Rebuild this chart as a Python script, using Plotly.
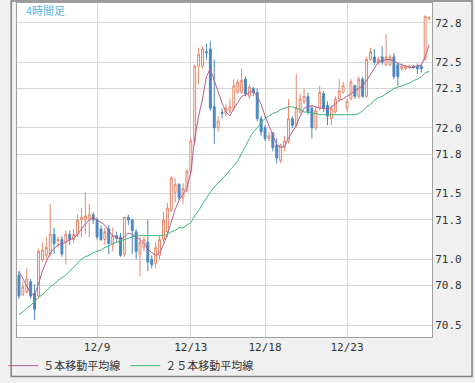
import plotly.graph_objects as go

# ---- data ----
opens = [
    70.88, 70.73, 70.75, 70.83, 70.74, 70.72, 71.00, 71.03, 71.04, 71.19,
    71.14, 71.15, 71.13, 71.19, 71.15, 71.19, 71.30, 71.30, 71.30, 71.34,
    71.30, 71.23, 71.15, 71.23, 71.11, 71.18, 71.17, 71.04, 71.32, 71.30,
    71.21, 71.04, 71.09, 71.13, 71.00, 70.97, 71.03, 71.15, 71.21, 71.37,
    71.51, 71.57, 71.47, 71.52, 71.67, 71.90, 72.47, 72.47, 72.58, 72.60,
    72.16, 72.00, 72.12, 72.11, 72.13, 72.15, 72.27, 72.27, 72.37, 72.24,
    72.30, 72.27, 72.07, 72.00, 71.92, 71.96, 71.87, 71.75, 71.85, 71.90,
    72.07, 72.02, 72.12, 72.20, 72.24, 72.15, 72.00, 72.15, 72.26, 72.17,
    72.07, 72.12, 72.22, 72.27, 72.15, 72.22, 72.32, 72.24, 72.37, 72.24,
    72.52, 72.54, 72.50, 72.54, 72.48, 72.48, 72.54, 72.48, 72.45, 72.45,
    72.46, 72.47, 72.47, 72.47, 72.52, 72.83]
highs = [
    70.91, 70.83, 70.93, 70.85, 70.81, 71.08, 71.13, 71.17, 71.42, 71.24,
    71.17, 71.18, 71.22, 71.22, 71.23, 71.34, 71.39, 71.51, 71.42, 71.36,
    71.32, 71.26, 71.24, 71.26, 71.24, 71.21, 71.20, 71.32, 71.34, 71.31,
    71.23, 71.17, 71.17, 71.30, 71.03, 71.13, 71.18, 71.36, 71.43, 71.63,
    71.62, 71.58, 71.58, 71.69, 71.92, 72.48, 72.61, 72.62, 72.64, 72.66,
    72.52, 72.09, 72.15, 72.18, 72.22, 72.37, 72.37, 72.45, 72.39, 72.33,
    72.31, 72.30, 72.09, 72.02, 71.97, 71.97, 71.92, 71.88, 71.94, 72.22,
    72.09, 72.41, 72.26, 72.30, 72.27, 72.17, 72.16, 72.32, 72.28, 72.20,
    72.17, 72.24, 72.37, 72.35, 72.22, 72.37, 72.33, 72.39, 72.39, 72.54,
    72.61, 72.60, 72.54, 72.62, 72.71, 72.56, 72.57, 72.50, 72.49, 72.48,
    72.48, 72.48, 72.49, 72.48, 72.85, 72.85]
lows = [
    70.70, 70.72, 70.74, 70.70, 70.54, 70.70, 70.98, 71.00, 71.02, 71.04,
    71.09, 71.02, 70.96, 71.11, 71.12, 71.17, 71.17, 71.19, 71.17, 71.27,
    71.15, 71.14, 71.11, 71.04, 71.06, 71.13, 71.02, 71.02, 71.26, 71.04,
    71.00, 70.87, 71.06, 70.91, 70.93, 70.93, 71.00, 71.13, 71.17, 71.36,
    71.43, 71.45, 71.42, 71.51, 71.66, 71.87, 72.33, 72.45, 72.52, 72.13,
    71.88, 71.97, 72.07, 72.09, 72.11, 72.13, 72.26, 72.26, 72.24, 72.22,
    72.24, 72.05, 71.94, 71.90, 71.90, 71.82, 71.73, 71.73, 71.82, 71.88,
    72.00, 72.00, 72.11, 72.18, 72.10, 71.92, 71.98, 72.13, 72.12, 72.02,
    72.02, 72.11, 72.20, 72.26, 72.12, 72.21, 72.22, 72.22, 72.23, 72.23,
    72.51, 72.48, 72.48, 72.48, 72.47, 72.47, 72.37, 72.32, 72.43, 72.44,
    72.45, 72.45, 72.41, 72.42, 72.51, 72.82]
closes = [
    70.72, 70.79, 70.85, 70.72, 70.62, 71.06, 71.07, 71.09, 71.19, 71.12,
    71.15, 71.04, 71.19, 71.15, 71.19, 71.30, 71.32, 71.33, 71.34, 71.30,
    71.17, 71.15, 71.21, 71.12, 71.18, 71.16, 71.03, 71.32, 71.30, 71.22,
    71.06, 71.13, 71.15, 70.98, 70.96, 71.09, 71.15, 71.30, 71.39, 71.62,
    71.57, 71.47, 71.54, 71.67, 71.90, 72.47, 72.56, 72.60, 72.57, 72.15,
    72.00, 72.05, 72.11, 72.15, 72.16, 72.32, 72.35, 72.36, 72.26, 72.31,
    72.27, 72.07, 71.97, 71.92, 71.94, 71.85, 71.77, 71.87, 71.90, 72.07,
    72.02, 72.15, 72.22, 72.24, 72.12, 72.00, 72.13, 72.27, 72.15, 72.09,
    72.15, 72.22, 72.28, 72.32, 72.20, 72.35, 72.24, 72.37, 72.24, 72.52,
    72.58, 72.50, 72.52, 72.50, 72.54, 72.54, 72.39, 72.39, 72.47, 72.47,
    72.47, 72.46, 72.45, 72.45, 72.85, 72.84]
ma5 = [
    70.91, 70.85, 70.79, 70.74, 70.73, 70.81, 70.91, 70.98, 71.05, 71.08,
    71.11, 71.12, 71.13, 71.15, 71.16, 71.19, 71.23, 71.27, 71.30, 71.32,
    71.30, 71.28, 71.26, 71.22, 71.18, 71.17, 71.15, 71.17, 71.20, 71.19,
    71.17, 71.15, 71.12, 71.08, 71.05, 71.03, 71.05, 71.11, 71.19, 71.29,
    71.38, 71.45, 71.50, 71.54, 71.66, 71.92, 72.09, 72.22, 72.39, 72.45,
    72.36, 72.27, 72.19, 72.12, 72.09, 72.15, 72.19, 72.24, 72.25, 72.27,
    72.28, 72.24, 72.18, 72.09, 72.02, 71.94, 71.87, 71.85, 71.86, 71.92,
    71.97, 72.02, 72.09, 72.15, 72.16, 72.17, 72.16, 72.15, 72.15, 72.14,
    72.16, 72.18, 72.21, 72.22, 72.24, 72.26, 72.28, 72.30, 72.32, 72.36,
    72.41, 72.46, 72.50, 72.51, 72.52, 72.52, 72.51, 72.49, 72.48, 72.47,
    72.46, 72.46, 72.47, 72.48, 72.54, 72.63]
ma25 = [
    70.58, 70.60, 70.63, 70.65, 70.68, 70.71, 70.73, 70.76, 70.79, 70.81,
    70.84, 70.86, 70.88, 70.91, 70.94, 70.97, 71.00, 71.02, 71.03, 71.05,
    71.06, 71.07, 71.09, 71.10, 71.12, 71.13, 71.14, 71.15, 71.16, 71.17,
    71.18, 71.18, 71.18, 71.18, 71.18, 71.18, 71.18, 71.18, 71.19, 71.21,
    71.22, 71.24, 71.24, 71.26, 71.28, 71.33, 71.37, 71.42, 71.47, 71.51,
    71.55, 71.58, 71.61, 71.64, 71.68, 71.71, 71.75, 71.80, 71.86, 71.92,
    71.97, 72.00, 72.04, 72.07, 72.09, 72.11, 72.12, 72.14, 72.15, 72.16,
    72.16, 72.15, 72.14, 72.12, 72.12, 72.11, 72.11, 72.10, 72.10, 72.10,
    72.10, 72.10, 72.10, 72.10, 72.10, 72.10, 72.10, 72.11, 72.13, 72.16,
    72.18, 72.21, 72.23, 72.24, 72.26, 72.28, 72.30, 72.31, 72.32, 72.33,
    72.34, 72.36, 72.37, 72.39, 72.42, 72.43]

date_tick_bars = [20, 44, 63, 84]
date_tick_labels = ['12/9', '12/13', '12/18', '12/23']
price_ticks = [70.5, 70.8, 71.0, 71.3, 71.5, 71.8, 72.0, 72.3, 72.5, 72.8]
price_tick_labels = ['70.5', '70.8', '71.0', '71.3', '71.5', '71.8', '72.0', '72.3', '72.5', '72.8']
ma5_name = '５本移動平均線'
ma25_name = '２５本移動平均線'
timeframe_label = '4時間足'

bars = list(range(len(closes)))

fig = go.Figure()
fig.add_trace(go.Candlestick(
    x=bars, open=opens, high=highs, low=lows, close=closes,
    increasing=dict(line=dict(color='#E5896C', width=1), fillcolor='#FFF6F2'),
    decreasing=dict(line=dict(color='#4A87C0', width=1), fillcolor='#4A87C0'),
    whiskerwidth=0, showlegend=False, hoverinfo='skip'))
fig.add_trace(go.Scatter(x=bars, y=ma5, mode='lines', name=ma5_name,
                         line=dict(color='#B85C92', width=1)))
fig.add_trace(go.Scatter(x=bars, y=ma25, mode='lines', name=ma25_name,
                         line=dict(color='#3DB87A', width=1)))

axis_font = dict(family='DejaVu Sans Mono', size=11, color='#333333')
fig.update_layout(
    width=475, height=383,
    margin=dict(l=7, r=43, t=3, b=42, pad=0),
    paper_bgcolor='#F0F0F0', plot_bgcolor='white',
    font=dict(family='Noto Sans CJK JP', size=11, color='#333333'),
    xaxis=dict(range=[-0.5, 105.75], tickmode='array', tickvals=date_tick_bars,
               ticktext=date_tick_labels, showgrid=True, gridcolor='#D6D6D6', gridwidth=1,
               showline=True, mirror=True, linecolor='#A0A0A0', linewidth=1,
               zeroline=False, ticks='', tickfont=axis_font,
               rangeslider=dict(visible=False)),
    yaxis=dict(range=[70.409, 72.95], side='right', tickmode='array', tickvals=price_ticks,
               ticktext=price_tick_labels, showgrid=True, gridcolor='#D6D6D6', gridwidth=1,
               showline=True, mirror=True, linecolor='#A0A0A0', linewidth=1,
               zeroline=False, ticks='', tickfont=axis_font),
    legend=dict(orientation='h', x=-0.033, xanchor='left', y=-0.0858, yanchor='middle',
                bgcolor='rgba(0,0,0,0)', font=dict(family='Noto Sans CJK JP', size=11, color='#333333'),
                itemwidth=30),
    annotations=[dict(text=timeframe_label, xref='paper', yref='paper', x=0.0165, y=0.979,
                      xanchor='left', yanchor='middle', showarrow=False,
                      font=dict(family='Noto Sans CJK JP', size=11, color='#55B4E6'))],
    shapes=[dict(type='rect', xref='paper', yref='paper', x0=-0.0141, x1=1.0965,
                 y0=-0.1183, y1=1.0059, line=dict(color='#808080', width=1.5),
                 fillcolor='rgba(0,0,0,0)', layer='above')],
    hovermode=False,
)

fig.write_html('out.html', config={'displayModeBar': False},
               post_script="document.body.style.margin='0';")
